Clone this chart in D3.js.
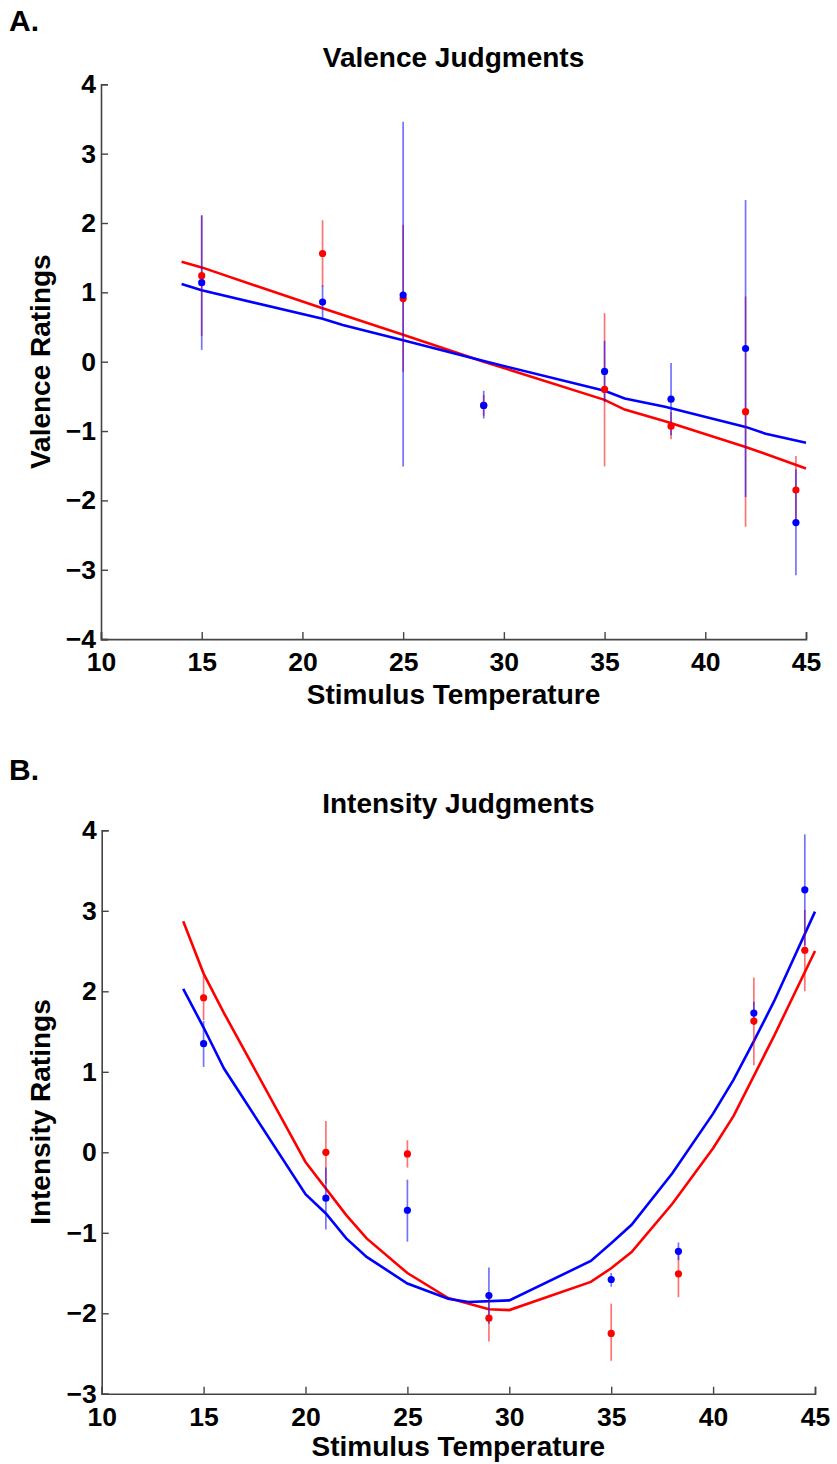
<!DOCTYPE html>
<html>
<head>
<meta charset="utf-8">
<script src="https://cdn.jsdelivr.net/npm/d3@7"></script>
<style>
  body { margin: 0; background: #fff; }
  svg text { font-family: "Liberation Sans", Arial, Helvetica, sans-serif; font-weight: bold; fill: #000; }
</style>
</head>
<body>
<div id="chart"></div>
<script>
// stimulus temperatures where ratings were taken
const temps = [15, 21, 25, 29, 35, 38.3, 42, 44.5];

// A. valence
const valRedMean  = [1.24, 1.56, 0.91, -0.63, -0.40, -0.93, -0.72, -1.85];
const valRedLo    = [0.37, 1.08, -0.15, -0.78, -1.51, -1.12, -2.38, -2.33];
const valRedHi    = [2.11, 2.04, 1.97, -0.48, 0.70, -0.72, 0.94, -1.36];
const valBlueMean = [1.14, 0.86, 0.96, -0.63, -0.14, -0.54, 0.19, -2.32];
const valBlueLo   = [0.17, 0.63, -1.51, -0.82, -0.58, -1.06, -1.95, -3.08];
const valBlueHi   = [2.11, 1.10, 3.46, -0.42, 0.30, -0.02, 2.33, -1.55];
const valRedFitT  = [14, 15, 21, 25, 29, 35, 36, 38, 42, 43, 45];
const valRedFit   = [1.44, 1.36, 0.77, 0.39, 0.0, -0.55, -0.69, -0.86, -1.23, -1.33, -1.54];
const valBlueFitT = [14, 15, 21, 22, 25, 29, 35, 36, 38, 42, 43, 45];
const valBlueFit  = [1.12, 1.03, 0.62, 0.53, 0.31, 0.01, -0.42, -0.53, -0.65, -0.94, -1.04, -1.17];

// B. intensity
const intRedMean  = [1.92, 0.00, -0.02, -2.06, -2.25, -1.51, 1.63, 2.51];
const intRedLo    = [1.64, -0.39, -0.19, -2.35, -2.59, -1.80, 1.08, 2.00];
const intRedHi    = [2.19, 0.39, 0.15, -1.77, -1.88, -1.22, 2.17, 3.01];
const intBlueMean = [1.35, -0.57, -0.72, -1.78, -1.58, -1.23, 1.73, 3.26];
const intBlueLo   = [1.06, -0.96, -1.11, -2.13, -1.67, -1.34, 1.58, 2.57];
const intBlueHi   = [1.63, -0.19, -0.34, -1.43, -1.50, -1.12, 1.87, 3.95];
const intRedFitT  = [14, 15, 16, 20, 22, 23, 25, 27, 29, 30, 34, 35, 36, 38, 40, 41, 43, 45];
const intRedFit   = [2.87, 2.22, 1.73, -0.12, -0.78, -1.07, -1.50, -1.81, -1.95, -1.96, -1.61, -1.44, -1.24, -0.64, 0.05, 0.45, 1.45, 2.50];
const intBlueFitT = [14, 15, 16, 20, 21, 22, 23, 25, 27, 28, 30, 34, 35, 36, 38, 40, 41, 42, 43, 45];
const intBlueFit  = [2.03, 1.55, 1.04, -0.52, -0.76, -1.07, -1.30, -1.63, -1.82, -1.86, -1.84, -1.35, -1.13, -0.90, -0.26, 0.48, 0.90, 1.38, 1.88, 2.99];

const xTicks = [10, 15, 20, 25, 30, 35, 40, 45];

const svg = d3.select('#chart').append('svg')
    .attr('width', 837).attr('height', 1464);

function zip(t, v) {
    return t.map((d, i) => [d, v[i]]);
}

function drawPanel(p) {
    const x = d3.scaleLinear().domain([10, 45]).range([p.left, p.right]);
    const y = d3.scaleLinear().domain([p.ymin, p.ymax]).range([p.bottom, p.top]);
    const g = svg.append('g');

    // axes (left + bottom only, ticks pointing inward)
    const fmt = d => d < 0 ? '\u2212' + Math.abs(d) : '' + d;
    const ya = g.append('g').attr('transform', `translate(${p.left},0)`)
        .call(d3.axisLeft(y).tickValues(d3.range(p.ymin, p.ymax + 1)).tickFormat(fmt)
            .tickSizeInner(-7).tickSizeOuter(-7).tickPadding(5));
    const xa = g.append('g').attr('transform', `translate(0,${p.bottom})`)
        .call(d3.axisBottom(x).tickValues(xTicks).tickFormat(fmt)
            .tickSizeInner(-7).tickSizeOuter(-7).tickPadding(13));
    [ya, xa].forEach(a => {
        a.select('.domain').attr('stroke', '#444').attr('stroke-width', 1.6);
        a.selectAll('.tick line').attr('stroke', '#444').attr('stroke-width', 1.4);
        a.selectAll('text').attr('font-size', 26.5).attr('fill', '#000');
    });

    // fitted curves
    const line = d3.line().x(d => x(d[0])).y(d => y(d[1]));
    g.append('path').datum(zip(p.redFitT, p.redFit)).attr('d', line)
        .attr('fill', 'none').attr('stroke', '#ff0000').attr('stroke-width', 2.6);
    g.append('path').datum(zip(p.blueFitT, p.blueFit)).attr('d', line)
        .attr('fill', 'none').attr('stroke', '#0000ff').attr('stroke-width', 2.6);

    // error bars and means, red underneath blue
    [[p.redLo, p.redHi, '#ff0000'], [p.blueLo, p.blueHi, '#0000ff']].forEach(s => {
        const [lo, hi, col] = s;
        g.append('g').selectAll('line').data(temps).enter().append('line')
            .attr('x1', d => x(d)).attr('x2', d => x(d))
            .attr('y1', (d, i) => y(lo[i])).attr('y2', (d, i) => y(hi[i]))
            .attr('stroke', col).attr('stroke-width', 1.7).attr('stroke-opacity', 0.55);
    });
    [[p.redMean, '#ff0000'], [p.blueMean, '#0000ff']].forEach(s => {
        const [mean, col] = s;
        g.append('g').selectAll('circle').data(temps).enter().append('circle')
            .attr('cx', d => x(d)).attr('cy', (d, i) => y(mean[i]))
            .attr('r', 3.6).attr('fill', col);
    });

    // labels
    const cx = (p.left + p.right) / 2;
    g.append('text').attr('x', cx).attr('y', p.titleY).attr('text-anchor', 'middle')
        .attr('font-size', 28).text(p.title);
    g.append('text').attr('x', cx).attr('y', p.bottom + p.xlabOff).attr('text-anchor', 'middle')
        .attr('font-size', 28).text('Stimulus Temperature');
    g.append('text').attr('transform', `translate(50,${(p.top + p.bottom) / 2}) rotate(-90)`)
        .attr('text-anchor', 'middle').attr('font-size', 28).text(p.ylabel);
    g.append('text').attr('x', 9).attr('y', p.letterY).attr('font-size', 30).text(p.letter);
}

drawPanel({
    left: 101, right: 806, top: 84.3, bottom: 639.1, ymin: -4, ymax: 4,
    title: 'Valence Judgments', titleY: 67, ylabel: 'Valence Ratings', letter: 'A.', letterY: 31,
    xlabOff: 65,
    redMean: valRedMean, redLo: valRedLo, redHi: valRedHi,
    blueMean: valBlueMean, blueLo: valBlueLo, blueHi: valBlueHi,
    redFitT: valRedFitT, redFit: valRedFit, blueFitT: valBlueFitT, blueFit: valBlueFit
});

drawPanel({
    left: 101.7, right: 815, top: 830.3, bottom: 1393.8, ymin: -3, ymax: 4,
    title: 'Intensity Judgments', titleY: 812.5, ylabel: 'Intensity Ratings', letter: 'B.', letterY: 780,
    xlabOff: 62,
    redMean: intRedMean, redLo: intRedLo, redHi: intRedHi,
    blueMean: intBlueMean, blueLo: intBlueLo, blueHi: intBlueHi,
    redFitT: intRedFitT, redFit: intRedFit, blueFitT: intBlueFitT, blueFit: intBlueFit
});
</script>
</body>
</html>
